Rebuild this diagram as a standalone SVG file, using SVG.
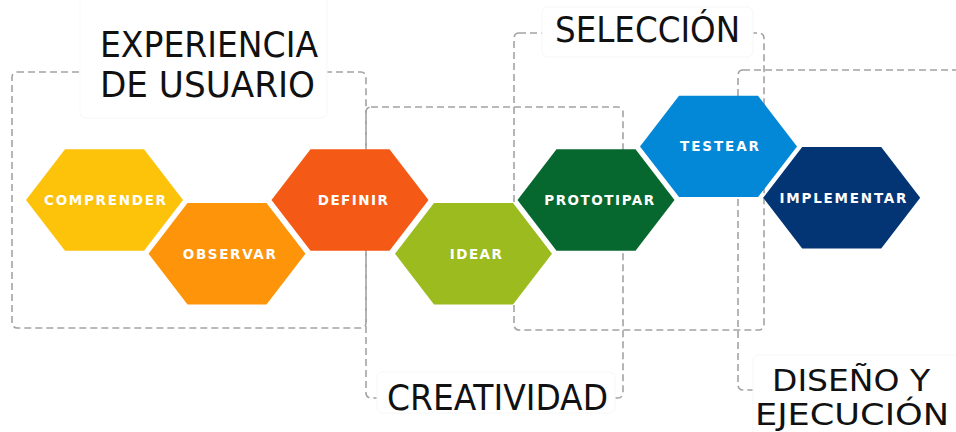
<svg xmlns="http://www.w3.org/2000/svg" xmlns:xlink="http://www.w3.org/1999/xlink" width="956" height="432" viewBox="0 0 956 432">
<defs>
<style>
.box{fill:none;stroke:#a3a3a3;stroke-width:1.6;stroke-dasharray:7 4}
.tbg{fill:#fff;stroke:#f7f7f7;stroke-width:1}
.title{font-family:"Liberation Sans Narrow","DejaVu Sans Condensed","Liberation Sans",sans-serif;font-size:36px;fill:#111;}
.lbl{font-family:"DejaVu Sans","Open Sans",sans-serif;font-weight:bold;font-size:13.5px;fill:#fff;text-anchor:middle}
</style>
<path id="hx" d="M-78.5 0 L-39.5 -50.7 L39.5 -50.7 L78.5 0 L39.5 50.7 L-39.5 50.7 Z"/>
</defs>
<rect width="956" height="432" fill="#fff"/>
<g id="connectors">
<rect class="box" x="12" y="72" width="354" height="256" rx="5"/>
<rect class="box" x="366" y="107" width="257" height="291" rx="5"/>
<rect class="box" x="514" y="33" width="250" height="297" rx="5"/>
<rect class="box" x="738" y="70" width="260" height="320" rx="5"/>
</g>
<g id="title-experiencia">
<rect class="tbg" x="80" y="-6" width="247" height="124" rx="6"/>
<text class="title" x="100" y="57" textLength="218" lengthAdjust="spacingAndGlyphs">EXPERIENCIA</text>
<text class="title" x="100" y="96.5" textLength="215" lengthAdjust="spacingAndGlyphs">DE USUARIO</text>
</g>
<g id="title-seleccion">
<rect class="tbg" x="542" y="7" width="211" height="50" rx="6"/>
<text class="title" x="555" y="41.7" textLength="185" lengthAdjust="spacingAndGlyphs">SELECCIÓN</text>
</g>
<g id="title-creatividad">
<rect class="tbg" x="377" y="372" width="238" height="41" rx="6"/>
<text class="title" x="387" y="410" textLength="221" lengthAdjust="spacingAndGlyphs">CREATIVIDAD</text>
</g>
<g id="title-diseno">
<rect class="tbg" x="753" y="355" width="220" height="85" rx="6"/>
<text class="title" x="772" y="390.5" style="font-size:31px" textLength="158" lengthAdjust="spacingAndGlyphs">DISEÑO Y</text>
<text class="title" x="755" y="425" style="font-size:31px" textLength="194" lengthAdjust="spacingAndGlyphs">EJECUCIÓN</text>
</g>
<g id="comprender">
<use xlink:href="#hx" transform="translate(104.5 200)" fill="#FDC20A"/>
<text class="lbl" x="105" y="205" textLength="122">COMPRENDER</text>
</g>
<g id="observar">
<use xlink:href="#hx" transform="translate(227 253.7)" fill="#FD9409"/>
<text class="lbl" x="229.3" y="259" textLength="93">OBSERVAR</text>
</g>
<g id="definir">
<use xlink:href="#hx" transform="translate(350 200)" fill="#F45A16"/>
<text class="lbl" x="352.8" y="205" textLength="70">DEFINIR</text>
</g>
<g id="idear">
<use xlink:href="#hx" transform="translate(473.5 253.7)" fill="#9BBB1F"/>
<text class="lbl" x="475.8" y="259" textLength="52">IDEAR</text>
</g>
<g id="prototipar">
<use xlink:href="#hx" transform="translate(596 200)" fill="#06682E"/>
<text class="lbl" x="599.2" y="205" textLength="110">PROTOTIPAR</text>
</g>
<g id="testear">
<use xlink:href="#hx" transform="translate(718.5 146.4)" fill="#0288D7"/>
<text class="lbl" x="719.5" y="151.4" textLength="79">TESTEAR</text>
</g>
<g id="implementar">
<use xlink:href="#hx" transform="translate(841.7 197.8)" fill="#033575"/>
<text class="lbl" x="843" y="202.8" textLength="127">IMPLEMENTAR</text>
</g>
</svg>
